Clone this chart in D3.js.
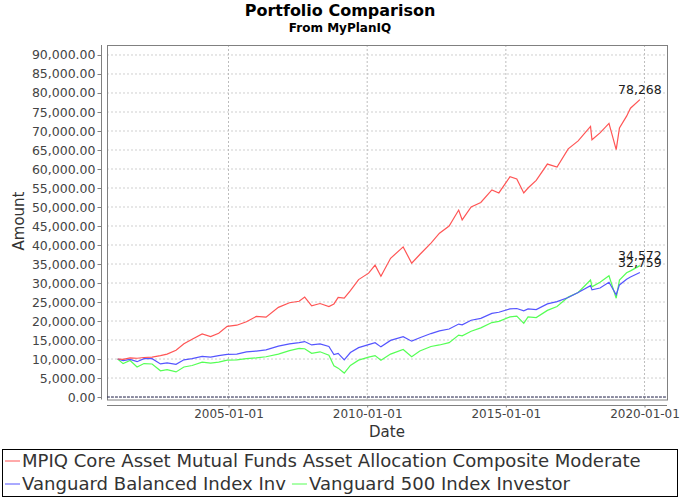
<!DOCTYPE html>
<html>
<head>
<meta charset="utf-8">
<script src="https://cdn.jsdelivr.net/npm/d3@7"></script>
<style>
body { margin: 0; background: #fff; }
svg { font-family: "DejaVu Sans", sans-serif; }
</style>
</head>
<body>
<script>
// values
var dates = ["2001-01-02","2001-03-15","2001-06-15","2001-09-15","2001-12-15","2002-04-01","2002-07-20","2002-10-15",
  "2003-02-10","2003-05-25","2003-09-10","2004-01-20","2004-05-10","2004-08-25","2004-12-15","2005-04-20","2005-08-25",
  "2006-01-01","2006-05-10","2006-10-20","2007-03-15","2007-07-20","2007-10-01","2008-01-01","2008-04-20","2008-08-15",
  "2008-10-20","2008-12-15","2009-03-05","2009-05-25","2009-09-10","2010-01-20","2010-04-15","2010-07-01","2010-11-05",
  "2011-04-20","2011-08-10","2011-11-25","2012-04-20","2012-08-10","2012-12-15","2013-04-20","2013-06-05","2013-10-01",
  "2014-02-05","2014-07-01","2014-10-01","2015-02-25","2015-05-25","2015-08-25","2015-10-20","2016-02-05","2016-07-01",
  "2016-11-05","2017-04-01","2017-08-10","2018-01-20","2018-02-08","2018-05-25","2018-09-20","2018-12-24","2019-02-05",
  "2019-05-10","2019-06-30","2019-11-01"];

var coreModerate = [10000,9900,10300,10200,10400,10500,10900,11300,
  12300,14000,15200,16600,15900,16800,18600,18900,19800,
  21200,21000,23600,24800,25200,26300,24000,24600,23800,
  24500,26200,26000,28000,30900,32600,34700,31800,36500,
  39500,35200,37500,40500,43100,45000,49200,46600,50000,
  51200,54500,53700,58000,57400,53700,55000,57000,61300,
  60500,65300,67400,71200,67700,69500,72000,65100,70800,
  73900,76000,78268];

var balancedIndex = [10000,9600,9900,9300,10100,10100,8700,9000,
  8600,9800,10100,10700,10500,10900,11200,11300,11900,
  12100,12400,13400,14000,14300,14600,13700,14000,13300,
  11200,11500,9800,11700,13000,13800,14300,13200,14900,
  15900,14700,15600,16700,17400,17900,19200,19000,20200,
  20700,22000,22300,23200,23300,22700,23200,23000,24500,
  25100,26200,27500,29300,28200,28700,30200,26900,29500,
  31000,31600,32759];

var sp500Index = [10000,8800,9600,7900,8800,8700,6900,7200,
  6600,7900,8300,9200,8900,9200,9700,9800,10100,
  10300,10600,11300,12200,12800,12700,11500,11900,11000,
  8200,7600,6300,8300,9700,10500,10900,9700,11300,
  12500,10600,12100,13300,13700,14300,16300,16100,17300,
  18200,19600,19900,21100,21300,19400,21100,20900,22800,
  23800,26300,27500,30800,29000,30200,31900,26000,30800,
  32700,33200,34572];

var seriesNames = ["MPIQ Core Asset Mutual Funds Asset Allocation Composite Moderate",
  "Vanguard Balanced Index Inv", "Vanguard 500 Index Investor"];
var seriesColors = ["#ff5555", "#5555ff", "#55ff55"];
var xTickDates = ["2005-01-01", "2010-01-01", "2015-01-01", "2020-01-01"];
var yTickValues = [0,5000,10000,15000,20000,25000,30000,35000,40000,45000,50000,55000,60000,65000,70000,75000,80000,85000,90000];

var W = 680, H = 500;
var plot = {left: 107, right: 667, top: 45, bottom: 399.5};
var parse = d3.timeParse("%Y-%m-%d");

var svg = d3.select("body").append("svg")
    .attr("width", W)
    .attr("height", H);

var x = d3.scaleTime()
    .domain([parse("2000-08-15"), parse("2020-10-23")])
    .range([plot.left, plot.right]);
var y = d3.scaleLinear()
    .domain([-650, 92630])
    .range([plot.bottom, plot.top]);

// titles
svg.append("text").attr("x", W / 2).attr("y", 16).attr("text-anchor", "middle")
    .style("font-size", "16px").style("font-weight", "bold").attr("fill", "#000")
    .text("Portfolio Comparison");
svg.append("text").attr("x", W / 2).attr("y", 32).attr("text-anchor", "middle")
    .style("font-size", "12px").style("font-weight", "bold").attr("fill", "#000")
    .text("From MyPlanIQ");

// grid
svg.append("g").selectAll("line")
    .data(yTickValues).enter().append("line")
    .attr("x1", plot.left).attr("x2", plot.right)
    .attr("y1", function(d) { return y(d); }).attr("y2", function(d) { return y(d); })
    .attr("stroke", "#cfcfcf").attr("stroke-width", 1).attr("stroke-dasharray", "2,2");
svg.append("g").selectAll("line")
    .data(xTickDates).enter().append("line")
    .attr("x1", function(d) { return x(parse(d)); }).attr("x2", function(d) { return x(parse(d)); })
    .attr("y1", plot.top).attr("y2", plot.bottom)
    .attr("stroke", "#bdbdbd").attr("stroke-width", 1).attr("stroke-dasharray", "2,2");

// plot outline
svg.append("rect")
    .attr("x", plot.left + 0.5).attr("y", plot.top + 0.5)
    .attr("width", plot.right - plot.left).attr("height", plot.bottom - plot.top)
    .attr("fill", "none").attr("stroke", "#808080");

// zero baseline
svg.append("line")
    .attr("x1", plot.left).attr("x2", plot.right)
    .attr("y1", y(0)).attr("y2", y(0))
    .attr("stroke", "#33335a").attr("stroke-width", 1).attr("stroke-dasharray", "3,1");

// axes
var yAxis = d3.axisLeft(y)
    .tickValues(yTickValues)
    .tickFormat(d3.format(",.2f"))
    .tickSizeInner(4).tickSizeOuter(0).tickPadding(2);
var gy = svg.append("g").attr("transform", "translate(101.5,0)").call(yAxis);

var xAxis = d3.axisBottom(x)
    .tickValues(xTickDates.map(parse))
    .tickFormat(d3.timeFormat("%Y-%m-%d"))
    .tickSizeInner(2).tickSizeOuter(0).tickPadding(2);
var gx = svg.append("g").attr("transform", "translate(0,405.5)").call(xAxis);

[gy, gx].forEach(function(g) {
    g.select(".domain").attr("stroke", "#808080");
    g.selectAll(".tick line").attr("stroke", "#808080");
    g.selectAll(".tick text").attr("fill", "#444")
        .style("font-family", "DejaVu Sans, sans-serif");
});
gy.selectAll(".tick text").style("font-size", "12.5px");
gx.selectAll(".tick text").style("font-size", "12px");
gy.select(".domain").attr("d", "M0," + plot.top + "V" + plot.bottom);
gx.select(".domain").attr("d", "M" + plot.left + ",0H" + plot.right);

// axis labels
svg.append("text").attr("transform", "translate(24,221) rotate(-90)")
    .attr("text-anchor", "middle").style("font-size", "15px").attr("fill", "#333")
    .text("Amount");
svg.append("text").attr("x", 387).attr("y", 437).attr("text-anchor", "middle")
    .style("font-size", "15px").attr("fill", "#333")
    .text("Date");

// series (first series drawn last, on top)
var allSeries = [coreModerate, balancedIndex, sp500Index];
var line = d3.line()
    .x(function(d, i) { return x(parse(dates[i])); })
    .y(function(d) { return y(d); });

for (var s = allSeries.length - 1; s >= 0; s--) {
    svg.append("path")
        .datum(allSeries[s])
        .attr("d", line)
        .attr("fill", "none")
        .attr("stroke", seriesColors[s])
        .attr("stroke-width", 1.2);
}

// end value labels
var last = dates.length - 1;
allSeries.forEach(function(vals) {
    svg.append("text")
        .attr("x", x(parse(dates[last])))
        .attr("y", y(vals[last]) - 6)
        .attr("text-anchor", "middle")
        .style("font-size", "12.5px").attr("fill", "#222")
        .text(d3.format(",")(vals[last]));
});

// legend
var legend = svg.append("g");
legend.append("rect").attr("x", 2.5).attr("y", 449.5).attr("width", 675).attr("height", 47)
    .attr("fill", "#fff").attr("stroke", "#000");

// size legend font so the long first entry spans the box like the original
var probe = legend.append("text").style("font-size", "17px").text(seriesNames[0]);
var legendFont = 17 * 619 / probe.node().getComputedTextLength();
probe.remove();

var legendRows = [461, 484, 484];
var cursor = 5;
seriesNames.forEach(function(name, i) {
    if (i === 1) cursor = 5;
    var ly = legendRows[i];
    legend.append("line").attr("x1", cursor).attr("x2", cursor + 15)
        .attr("y1", ly).attr("y2", ly)
        .attr("stroke", seriesColors[i]).attr("stroke-width", 1);
    var t = legend.append("text").attr("x", cursor + 17).attr("y", ly + 6)
        .style("font-size", legendFont + "px").attr("fill", "#333")
        .text(name);
    cursor = cursor + 17 + t.node().getComputedTextLength() + 6;
});
</script>
</body>
</html>
